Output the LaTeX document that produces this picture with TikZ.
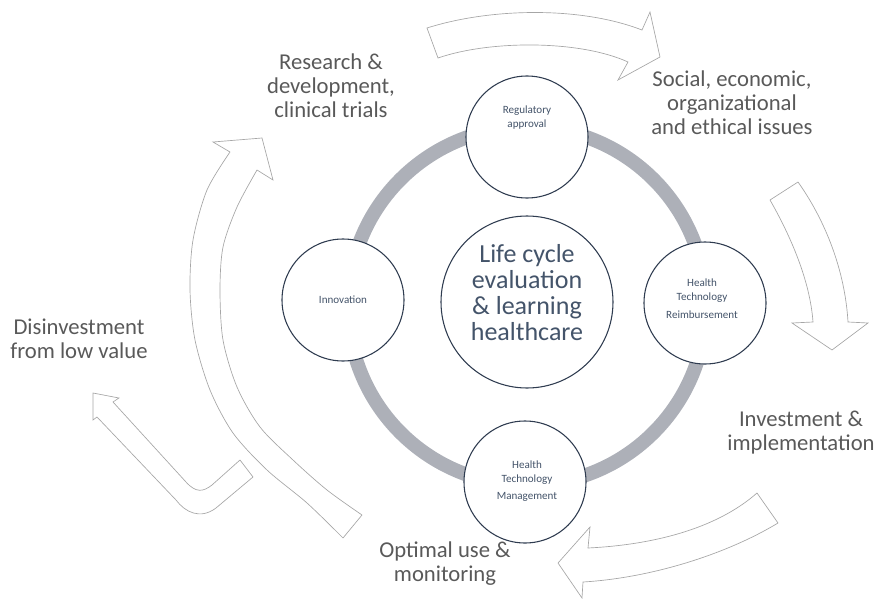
\documentclass[tikz,border=0pt]{standalone}
\usepackage{fontspec}
\setmainfont{Carlito}
\definecolor{ringgray}{HTML}{ADB0B8}
\definecolor{stageline}{HTML}{2F3C50}
\definecolor{slate}{HTML}{44546A}
\definecolor{labelgray}{HTML}{595959}
\definecolor{arrowgray}{HTML}{A6A6A6}
\begin{document}
\begin{tikzpicture}[x=0.75pt, y=-0.75pt,
    stage/.style={circle, draw=stageline, line width=0.8pt, fill=white,
      minimum size=91.5pt, inner sep=0pt},
    stagetext/.style={text=slate, align=center, font=\fontsize{8.3}{10.5}\selectfont},
    coretext/.style={text=slate, align=center, font=\fontsize{19.5}{19.5}\selectfont},
    phase/.style={text=labelgray, align=center, font=\fontsize{17}{18}\selectfont}]
  \useasboundingbox (0,0) rectangle (876,600);
  % Draw the grey cycle ring behind the stages
  \begin{scope}[draw=ringgray, line width=10.5pt]
    \coordinate (hub) at (527,306);
    \draw (hub) circle[radius=134.25pt];
  \end{scope}
  % Draw the stage circles on the ring
  \node[stage, minimum size=129pt] (core) at (527,302) {};
  \node[stage] (regul) at (527,137) {};
  \node[stage] (innov) at (343,300) {};
  \node[stage] (reimb) at (705,303) {};
  \node[stage] (manag) at (525,482) {};
  % Texts in the circles
  \node[coretext] (coretxt) at (527,293) {Life cycle\\evaluation\\\& learning\\healthcare};
  \node[stagetext] (regultxt) at (527,118) {Regulatory\\approval};
  \node[stagetext] (innovtxt) at (343,300) {Innovation};
  \node[stagetext] (reimbtxt) at (702,299) {Health\\Technology\\[3pt]Reimbursement};
  \node[stagetext] (managtxt) at (527,481) {Health\\Technology\\[2pt]Management};
  % Phase labels round the cycle
  \node[phase] (research) at (331,86) {Research \&\\development,\\clinical trials};
  \node[phase] (social) at (732,103) {Social, economic,\\organizational\\and ethical issues};
  \node[phase] (invest) at (801,433) {Investment \&\\implementation};
  \node[phase] (optimal) at (445,564) {Optimal use \&\\monitoring};
  \node[phase] (disinv) at (79,339) {Disinvestment\\from low value};
  % Draw the block arrows, the small bent one last
  \begin{scope}[fill=white, draw=arrowgray, line width=0.5pt]
    \filldraw (427,28) .. controls (490,8) and (580,6) .. (642,30) -- (650,12)
      -- (660,57) -- (618,80) -- (628,62) .. controls (580,40) and (490,40) .. (438,58) -- cycle;
    \filldraw (770,200) .. controls (790,235) and (810,280) .. (813,322) -- (792,323)
      -- (832,350) -- (868,323) -- (848,322) .. controls (845,270) and (825,220) .. (798,182) -- cycle;
    \filldraw (757,493) .. controls (715,530) and (650,545) .. (588,548) -- (590,527)
      -- (558,563) -- (582,598) -- (583,582) .. controls (650,578) and (725,555) .. (778,523) -- cycle;
    \filldraw (362,515) -- plot[smooth] coordinates {(362,515) (327,490) (293,460) (260,427)
      (237,387) (223,340) (220,290) (223,247) (237,207) (257,170)}
      -- (273,180) -- (262,138) -- (213,142)
      -- plot[smooth] coordinates {(230,152) (207,190) (193,240) (190,290) (195,340)
      (210,390) (233,433) (267,470) (307,503) (343,538)} -- cycle;
    \filldraw (93,393) -- (119,398) -- (113,402) -- (186,482) .. controls (196,493) and (203,492) .. (212,485)
      -- (240,460) -- (253,477) -- (216,508) .. controls (200,520) and (185,512) .. (176,500)
      -- (97,417) -- (93,420) -- cycle;
  \end{scope}
\end{tikzpicture}
\end{document}
